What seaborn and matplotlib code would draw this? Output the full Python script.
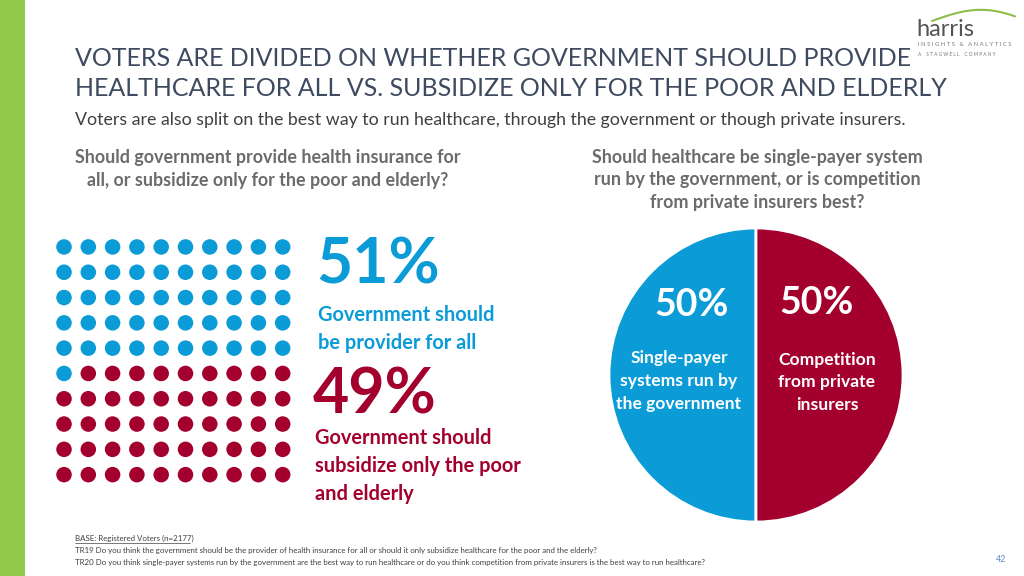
"""
Harris poll slide: healthcare provider vs. subsidy (dot grid) and
single-payer vs. private competition (pie).
"""
import numpy as np
import pandas as pd
import matplotlib
matplotlib.use("Agg")
import matplotlib.pyplot as plt
import seaborn as sns

# --- data ---
provider_labels = ["Government should\nbe provider for all",
                   "Government should\nsubsidize only the poor\nand elderly"]
provider_pct = [51, 49]

payer_labels = ["Single-payer\nsystems run by\nthe government",
                "Competition\nfrom private\ninsurers"]
payer_pct = [50, 50]

title_lines = ["VOTERS ARE DIVIDED ON WHETHER GOVERNMENT SHOULD PROVIDE",
               "HEALTHCARE FOR ALL VS. SUBSIDIZE ONLY FOR THE POOR AND ELDERLY"]
subtitle = ("Voters are also split on the best way to run healthcare, through the "
            "government or though private insurers.")
q_left = "Should government provide health insurance for\nall, or subsidize only for the poor and elderly?"
q_right = ("Should healthcare be single-payer system\nrun by the government, or is competition\n"
           "from private insurers best?")
footnotes = [
    "BASE: Registered Voters (n=2177)",
    "TR19 Do you think the government should be the provider of health insurance for all or "
    "should it only subsidize healthcare for the poor and the elderly?",
    "TR20 Do you think single-payer systems run by the government are the best way to run "
    "healthcare or do you think competition from private insurers is the best way to run healthcare?",
]
page_no = "42"

BLUE = "#0B9BD7"
RED = "#A3002E"
GREEN = "#92C94A"
TITLE_C = "#3D4A60"
GREY = "#6B6B6B"

sns.set_theme(style="white")
plt.rcParams["font.family"] = ["Lato", "DejaVu Sans"]

fig = plt.figure(figsize=(10.24, 5.76), dpi=100)
W, H = 1024, 576

# background canvas in pixel units
bg = fig.add_axes([0, 0, 1, 1])
bg.set_xlim(0, W)
bg.set_ylim(H, 0)
bg.axis("off")
bg.add_patch(plt.Rectangle((0, 0), 25, H, color=GREEN, lw=0))

# title / subtitle
bg.text(75, 58, title_lines[0], fontsize=18, color=TITLE_C, va="center", ha="left")
bg.text(75, 88, title_lines[1], fontsize=18, color=TITLE_C, va="center", ha="left")
bg.text(75, 120, subtitle, fontsize=12.8, color="#404040", va="center", ha="left")

# questions
bg.text(268, 169, q_left, fontsize=12.9, color=GREY, fontweight="bold",
        ha="center", va="center", linespacing=1.4)
bg.text(757, 180, q_right, fontsize=12.9, color=GREY, fontweight="bold",
        ha="center", va="center", linespacing=1.4)

# logo
t = np.linspace(0, 1, 50)
bg.plot(932 + 83 * t, 21 - 13 * np.sin(np.pi * t * 0.8) + 3 * t, color="#8DBE4A", lw=1.5)
bg.text(916, 30, "harris", fontsize=17, color="#555555", va="center", ha="left")
bg.text(918, 44, "I N S I G H T S   &   A N A L Y T I C S", fontsize=4.2, color="#777777",
        va="center")
bg.text(918, 55, "A    S T A G W E L L    C O M P A N Y", fontsize=3.4, color="#777777",
        va="center")

# --- dot grid (100 dots, one per percent) ---
n_blue = provider_pct[0]
idx = np.arange(sum(provider_pct))
dots = pd.DataFrame({
    "col": idx % 10,
    "row": idx // 10,
    "group": np.where(idx < n_blue, "provider", "subsidize"),
})
ax_d = fig.add_axes([51.85 / W, (H - 487.3) / H, 243 / W, 253 / H])
sns.scatterplot(data=dots, x="col", y="row", hue="group",
                palette={"provider": BLUE, "subsidize": RED},
                s=125, linewidth=0, legend=False, ax=ax_d)
ax_d.set_xlim(-0.5, 9.5)
ax_d.set_ylim(9.5, -0.5)
ax_d.axis("off")

# big numbers and labels
bg.text(316, 265, f"{provider_pct[0]}%", fontsize=45, color=BLUE, fontweight="bold",
        va="center", ha="left")
bg.text(318, 329, provider_labels[0], fontsize=14.4, color=BLUE, fontweight="bold",
        va="center", ha="left", linespacing=1.5)
bg.text(313, 395, f"{provider_pct[1]}%", fontsize=45, color=RED, fontweight="bold",
        va="center", ha="left")
bg.text(315, 466, provider_labels[1], fontsize=14.4, color=RED, fontweight="bold",
        va="center", ha="left", linespacing=1.5)

# --- pie ---
ax_p = fig.add_axes([609 / W, (H - 522) / H, 294 / W, 294 / H])
ax_p.pie(payer_pct, colors=[BLUE, RED], startangle=90, counterclock=True,
         wedgeprops=dict(edgecolor="white", linewidth=2))
ax_p.set_xlim(-1, 1)
ax_p.set_ylim(-1, 1)
ax_p.set_aspect("equal")

# overlay for labels drawn on top of the pie
top = fig.add_axes([0, 0, 1, 1], label="overlay")
top.set_xlim(0, W)
top.set_ylim(H, 0)
top.axis("off")
top.patch.set_alpha(0)

top.text(692, 305, f"{payer_pct[0]}%", fontsize=27, color="white", fontweight="bold",
         ha="center", va="center")
top.text(817, 303, f"{payer_pct[1]}%", fontsize=27, color="white", fontweight="bold",
         ha="center", va="center")
top.text(679, 381, payer_labels[0], fontsize=12.6, color="white", fontweight="bold",
         ha="center", va="center", linespacing=1.5)
top.text(827, 382, payer_labels[1], fontsize=12.6, color="white", fontweight="bold",
         ha="center", va="center", linespacing=1.5)

# footnotes
for i, line in enumerate(footnotes):
    bg.text(75, 538 + 12 * i, line, fontsize=5.65, color="#404040", va="center", ha="left")
bg.plot([75, 190], [543, 543], color="#404040", lw=0.5)
bg.text(1001, 560, page_no, fontsize=6.5, color="#5B8EC8", va="center", ha="center")

fig.savefig("out.png", dpi=100)
